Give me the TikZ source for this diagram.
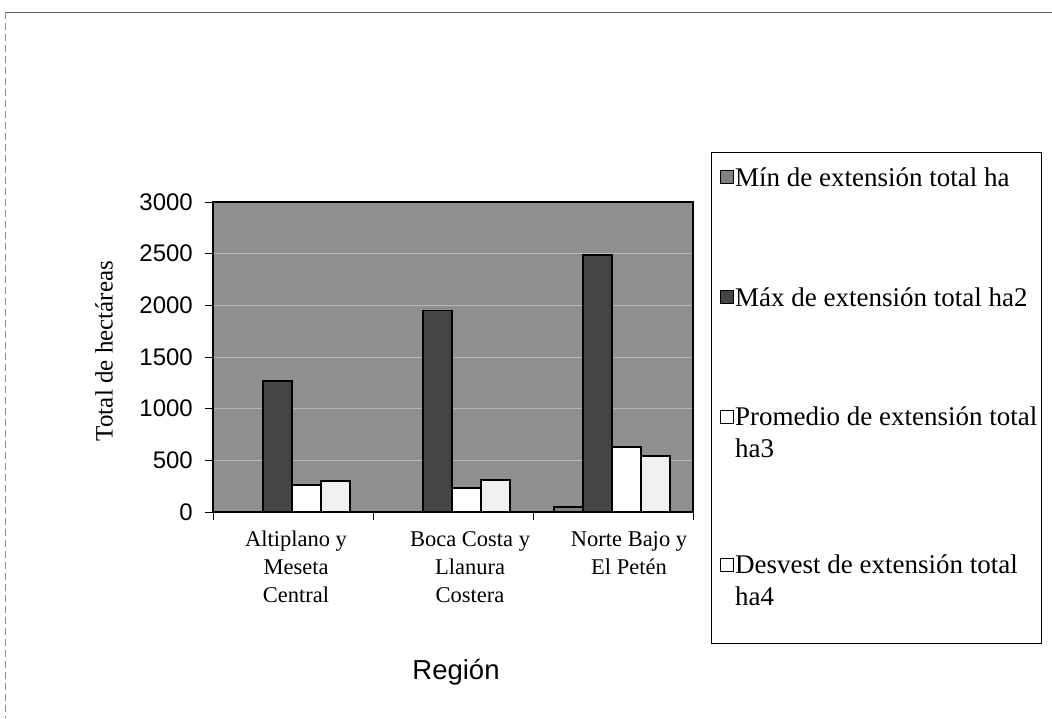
\documentclass[tikz,border=0pt]{standalone}
\usepackage{fontspec}
\setmainfont{Liberation Serif}
\setsansfont{Liberation Sans}
\usepackage{xcolor}
\usepackage{tikz}

\definecolor{plotgray}{gray}{0.56}
\definecolor{maxgray}{gray}{0.27}
\definecolor{mingray}{gray}{0.5}
\definecolor{desvgray}{gray}{0.94}
\definecolor{gridgray}{gray}{0.72}

\tikzset{
  barbox/.style={draw=black, line width=1.6pt},
  minbar/.style={barbox, fill=mingray},
  maxbar/.style={barbox, fill=maxgray},
  prombar/.style={barbox, fill=white},
  desvbar/.style={barbox, fill=desvgray},
  ticklabel/.style={font=\sffamily\fontsize{24}{28}\selectfont, anchor=east, inner sep=0pt},
  catlabel/.style={font=\fontsize{22.5}{28}\selectfont, align=center, anchor=north, inner sep=0pt},
  legtext/.style={font=\fontsize{27}{32}\selectfont, align=left, anchor=base west, inner sep=0pt},
  keybox/.style={draw=black, line width=1.6pt, minimum size=13pt, inner sep=0pt},
}

\begin{document}
\begin{tikzpicture}[x=1pt,y=-1pt]
            \useasboundingbox (0,0) rectangle (1052,718);

            % edge of the scanned page
            \draw[black!60, line width=1pt] (5,12) -- (1052,12);
            \draw[black!45, line width=0.8pt, dash pattern=on 7pt off 4pt] (5,12) -- (5,718);

            % plot area and grid
            \fill[plotgray] (213,202) rectangle (693,512);
            \foreach \v in {500,1000,...,2500}
                \draw[gridgray, line width=0.8pt] (213,{512-\v*0.103333}) -- (693,{512-\v*0.103333});

            % bars: group / min / max / promedio / desvest
            \foreach \g/\mn/\mx/\pr/\ds in {0/4/1270/260/300, 1/4/1950/230/310, 2/50/2490/630/540} {
                \pgfmathsetmacro{\x}{234+160*\g}
                \draw[minbar] (\x,512) rectangle ({\x+29},{512-\mn*0.103333});
                \draw[maxbar] ({\x+29},512) rectangle ({\x+58},{512-\mx*0.103333});
                \draw[prombar] ({\x+58},512) rectangle ({\x+87},{512-\pr*0.103333});
                \draw[desvbar] ({\x+87},512) rectangle ({\x+116},{512-\ds*0.103333});
            }

            \draw[line width=2.4pt] (213,202) rectangle (693,512);

            % axes
            \foreach \v in {0,500,...,3000} {
                \draw[line width=1pt] (205,{512-\v*0.103333}) -- (213,{512-\v*0.103333});
                \node[ticklabel] (tick\v) at (193,{512-\v*0.103333}) {\v};
            }
            \foreach \i in {0,...,3}
                \draw[line width=1pt] ({213+160*\i},512) -- ({213+160*\i},520);

            \node[catlabel] (alti) at (296,531) {Altiplano y\\Meseta\\Central};
            \node[catlabel] (boca) at (470,531) {Boca Costa y\\Llanura\\Costera};
            \node[catlabel] (norte) at (629,531) {Norte Bajo y\\El Petén};

            \node[font=\sffamily\fontsize{27.5}{32}\selectfont] (region) at (456,672) {Región};
            \node[rotate=90, font=\fontsize{25}{30}\selectfont] (ytitle) at (104,351) {Total de hectáreas};

            % legend
            \node[draw, line width=1pt, minimum width=330pt, minimum height=491pt, anchor=north west, inner sep=0pt] (legend) at (711,152) {};

            \node[keybox, fill=mingray] (kmin) at (727,177) {};
            \node[keybox, fill=maxgray] (kmax) at (727,297) {};
            \node[keybox, fill=white] (kprom) at (727,417) {};
            \node[keybox, fill=white] (kdesv) at (727,565) {};

            \node[legtext] (lmin) at (735,186) {Mín de extensión total ha};
            \node[legtext] (lmax) at (735,306) {Máx de extensión total ha2};
            \node[legtext] (lprom) at (735,457) {Promedio de extensión total\\ha3};
            \node[legtext] (ldesv) at (735,605) {Desvest de extensión total\\ha4};
\end{tikzpicture}
\end{document}
